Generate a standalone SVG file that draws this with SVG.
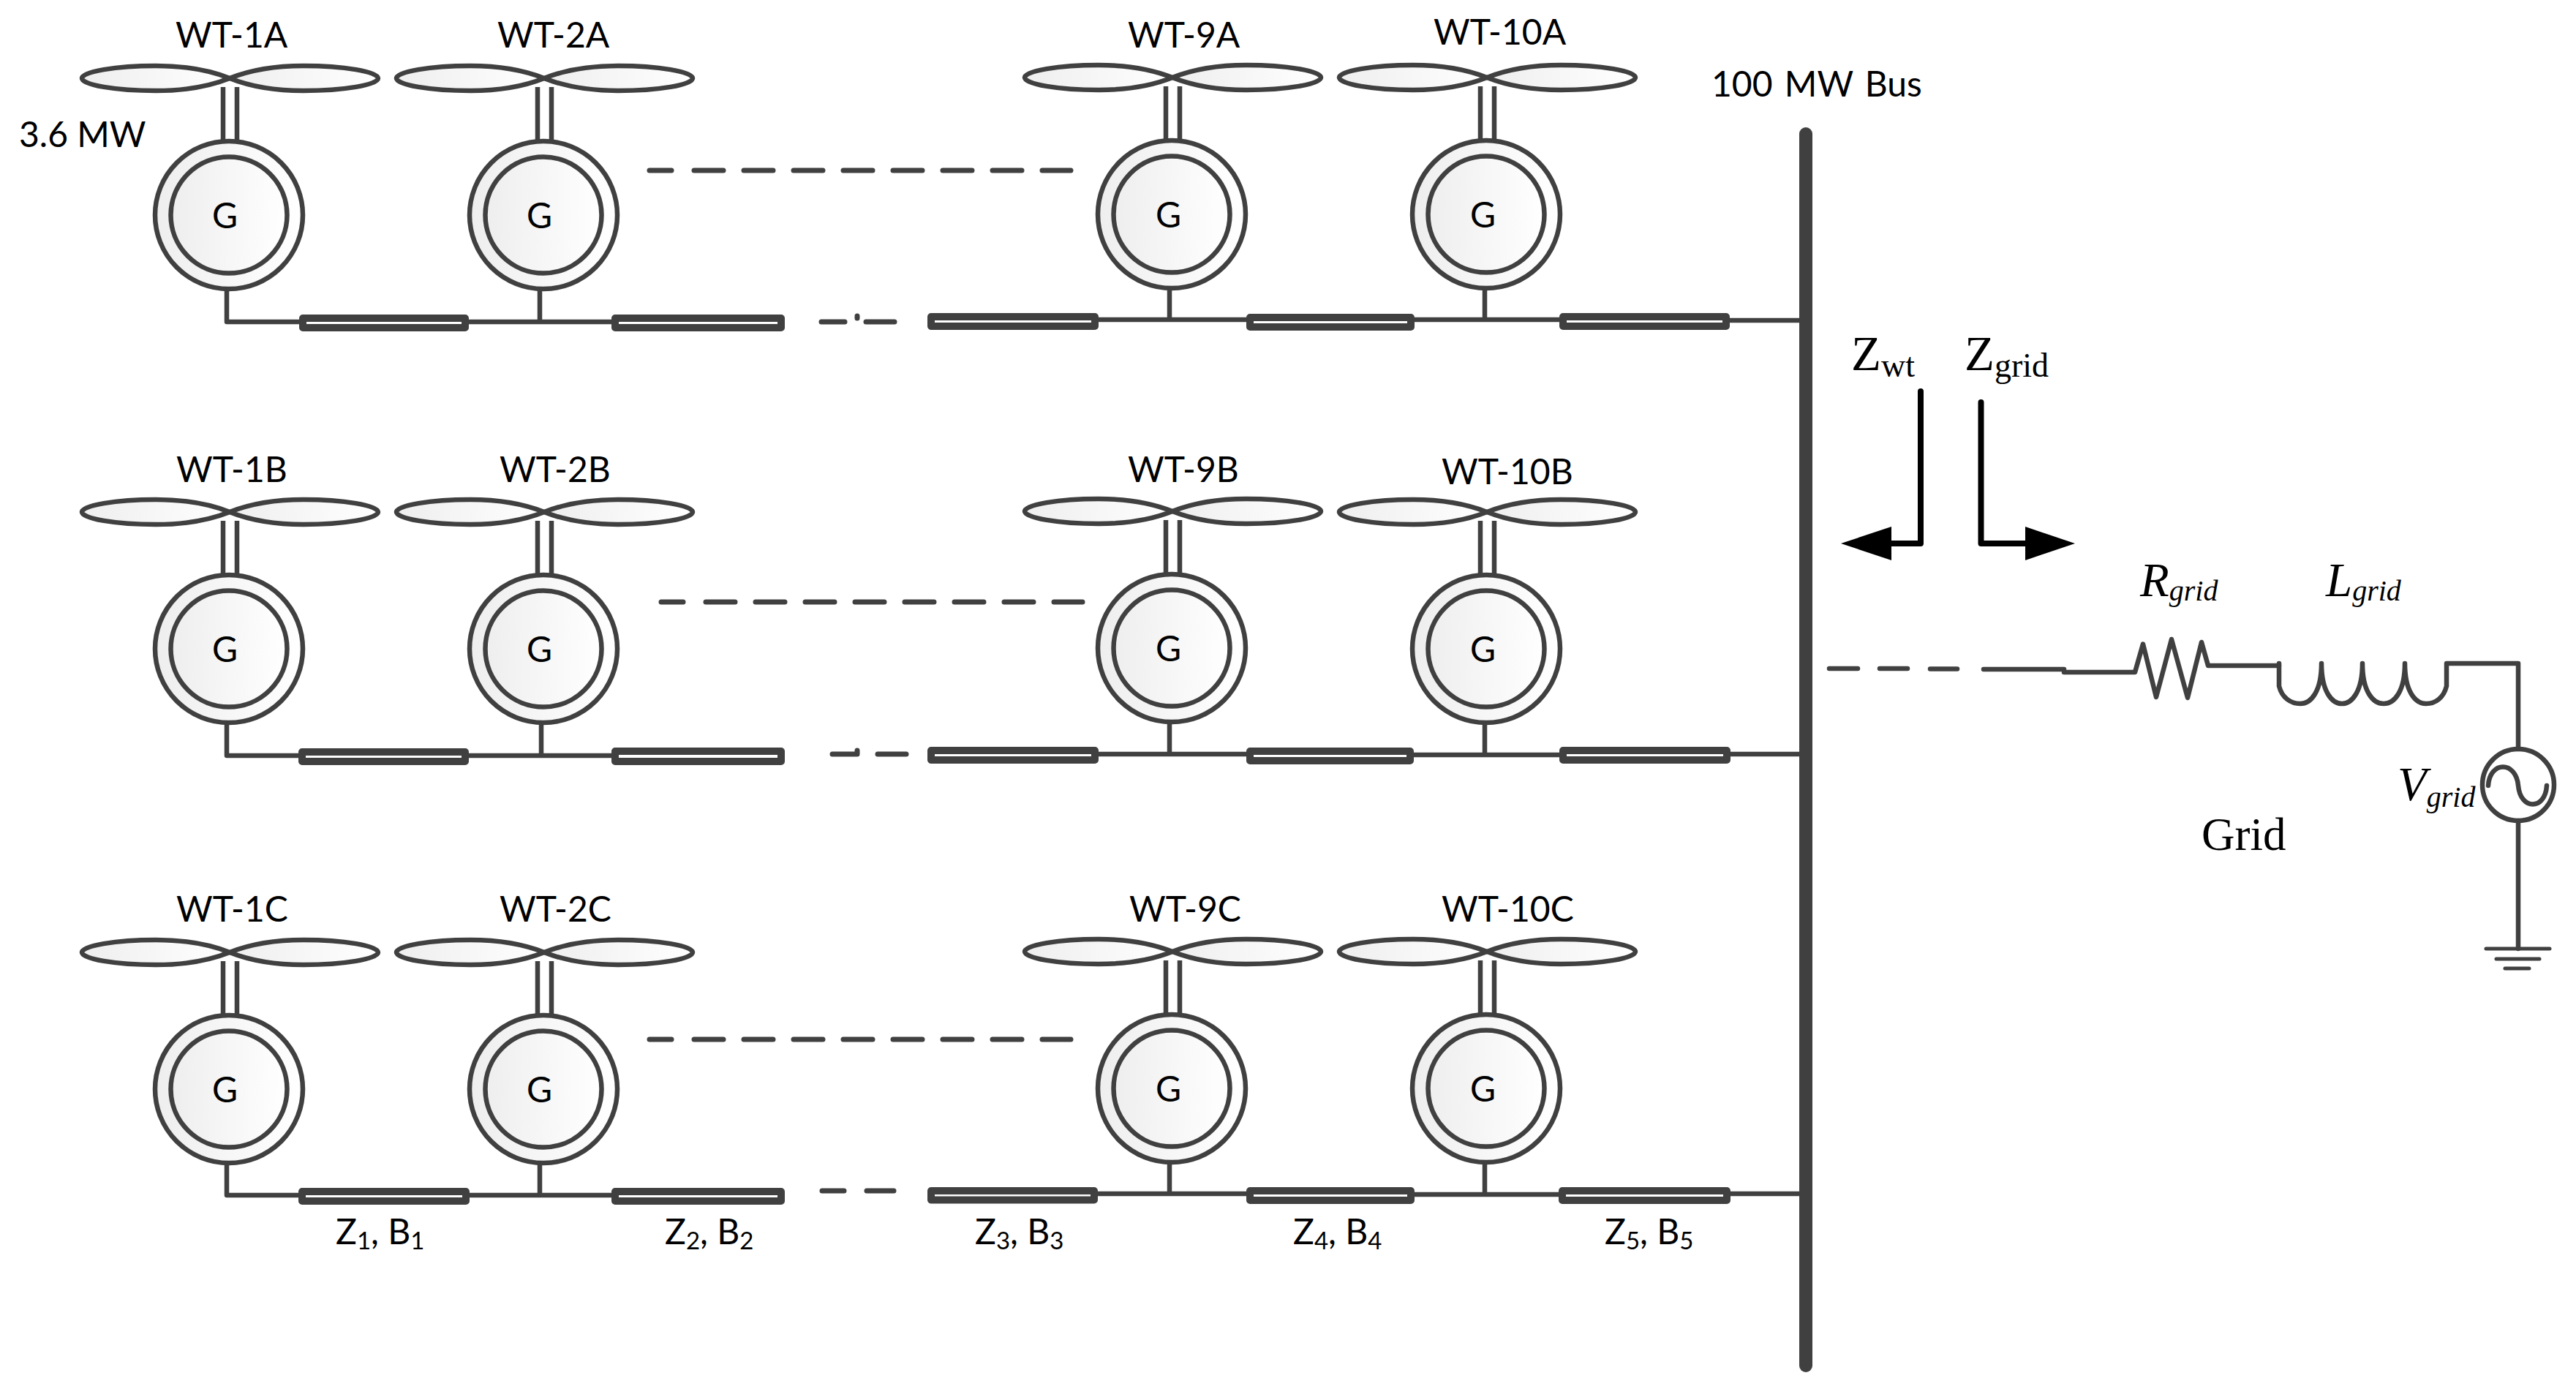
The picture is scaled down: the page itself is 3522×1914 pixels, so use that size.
<svg xmlns="http://www.w3.org/2000/svg" width="3522" height="1914" viewBox="0 0 3522 1914">
<style>
.w{fill:none;stroke:#404040;stroke-width:6.5;stroke-linecap:round;stroke-linejoin:round}
.k{fill:none;stroke:#000;stroke-width:8;stroke-linejoin:round;stroke-linecap:round}
.d{fill:none;stroke:#404040;stroke-width:7;stroke-linecap:round;stroke-dasharray:40 28}
.s{fill:none;stroke:#404040;stroke-width:7;stroke-linecap:round;stroke-linejoin:round}
.c{fill:#fff;stroke:#404040;stroke-width:10;stroke-linejoin:round}
.f{fill:url(#sh);stroke:#404040;stroke-width:6.5;stroke-linejoin:round}
text{fill:#000}
.l{font-family:Lato,"Open Sans",sans-serif;font-size:48px}
.z{font-family:Lato,"Open Sans",sans-serif;font-size:48px}
.u{font-size:33px}
.t{font-family:"Liberation Serif",serif;font-size:67px}
.i{font-family:"Liberation Serif",serif;font-size:65px;font-style:italic}
.b{font-size:46px}
.j{font-size:40px}
</style>
<defs>
<linearGradient id="sh"><stop offset="0" stop-color="#eeeeee"/><stop offset="1" stop-color="#ffffff"/></linearGradient>
<g id="turbine">
<path class="w" d="M-8 -175V-103M11 -175V-103" style="stroke-linecap:butt"/>
<path class="f" d="M1 -187C-24 -197 -60 -204 -100 -204C-155 -204 -201 -196 -201 -187C-201 -178 -155 -170 -100 -170C-60 -170 -24 -177 1 -187Z"/>
<path class="f" d="M1 -187C26 -197 62 -204 102 -204C157 -204 204 -196 204 -187C204 -178 157 -170 102 -170C62 -170 26 -177 1 -187Z"/>
<circle class="f" r="101"/>
<circle class="f" r="79.5"/>
</g>
</defs>
<g id="connectors">
<path class="w" d="M310 398V440H409M641 440H836M738 398V440M1502 437H1704M1599 397V437M1934 437H2132M2030 397V437M2365 438H2460"/>
<path class="w" d="M310 990V1033H408M641 1033H836M740 990V1033M1502 1031H1705M1599 990V1031M1932 1032H2132M2030 990V1032M2366 1031H2460"/>
<path class="w" d="M310 1592V1634H408M642 1634H836M738 1592V1634M1501 1632H1705M1599 1592V1632M1933 1633H2132M2030 1592V1633M2366 1632H2460"/>
<rect class="c" x="414" y="435" width="222" height="13"/>
<rect class="c" x="841" y="435" width="227" height="13"/>
<rect class="c" x="1273" y="433" width="224" height="13"/>
<rect class="c" x="1709" y="434" width="220" height="13"/>
<rect class="c" x="2137" y="433" width="223" height="13"/>
<rect class="c" x="413" y="1028" width="223" height="13"/>
<rect class="c" x="841" y="1027" width="227" height="14"/>
<rect class="c" x="1273" y="1026" width="224" height="13"/>
<rect class="c" x="1709" y="1027" width="219" height="13"/>
<rect class="c" x="2137" y="1026" width="224" height="13"/>
<rect class="c" x="413" y="1629" width="224" height="13"/>
<rect class="c" x="841" y="1629" width="227" height="13"/>
<rect class="c" x="1273" y="1628" width="223" height="12.5"/>
<rect class="c" x="1709" y="1628" width="220" height="13"/>
<rect class="c" x="2136" y="1628" width="225" height="13"/>
<path class="s" d="M888 233H918"/><path class="d" d="M949 233H1464"/>
<path class="s" d="M904 823H934"/><path class="d" d="M965 823H1480"/>
<path class="s" d="M888 1421H918"/><path class="d" d="M949 1421H1464"/>
<path class="s" d="M1123 440H1155M1172 432V435M1184 440H1223"/>
<path class="s" d="M1138 1031H1172V1026M1200 1031H1239"/>
<path class="s" d="M1124 1628H1154M1185 1628H1222"/>
<path class="w" d="M2501 914H2540M2570 914H2608M2639 914.5H2676M2712 915H2822"/>
<path class="w" d="M2822 919H2919L2930 880.5L2948 953L2969 874L2991 954L3010 878L3019 910H3116"/>
<path class="w" d="M3116 907V938C3120 954 3132 962 3145 962C3160 962 3174 945 3174 907C3174 945 3188 962 3202 962C3216 962 3230 945 3230 907C3230 945 3244 962 3259 962C3274 962 3288 945 3288 907C3288 945 3302 962 3317 962C3330 962 3341 954 3345 938V907H3443V1024"/>
<path class="w" d="M3443 1122V1297"/>
</g>
<g id="bus"><path d="M2469 183V1867" fill="none" stroke="#404040" stroke-width="18" stroke-linecap="round"/><text class="l" x="2340" y="132" style="word-spacing:4px">100 MW Bus</text></g>
<g id="wt-1a"><use href="#turbine" x="313" y="294"/><text class="l" x="240" y="65">WT-1A</text><text class="l" x="290" y="312">G</text></g>
<g id="wt-2a"><use href="#turbine" x="743" y="294"/><text class="l" x="680" y="65">WT-2A</text><text class="l" x="720" y="312">G</text></g>
<g id="wt-9a"><use href="#turbine" x="1602" y="293"/><text class="l" x="1542" y="65">WT-9A</text><text class="l" x="1580" y="311">G</text></g>
<g id="wt-10a"><use href="#turbine" x="2032" y="293"/><text class="l" x="1960" y="61">WT-10A</text><text class="l" x="2010" y="311">G</text></g>
<g id="wt-1b"><use href="#turbine" x="313" y="887"/><text class="l" x="241" y="659">WT-1B</text><text class="l" x="290" y="905">G</text></g>
<g id="wt-2b"><use href="#turbine" x="743" y="887"/><text class="l" x="683" y="659">WT-2B</text><text class="l" x="720" y="905">G</text></g>
<g id="wt-9b"><use href="#turbine" x="1602" y="886"/><text class="l" x="1542" y="659">WT-9B</text><text class="l" x="1580" y="904">G</text></g>
<g id="wt-10b"><use href="#turbine" x="2032" y="887"/><text class="l" x="1971" y="662">WT-10B</text><text class="l" x="2010" y="905">G</text></g>
<g id="wt-1c"><use href="#turbine" x="313" y="1489"/><text class="l" x="241" y="1260">WT-1C</text><text class="l" x="290" y="1507">G</text></g>
<g id="wt-2c"><use href="#turbine" x="743" y="1489"/><text class="l" x="683" y="1260">WT-2C</text><text class="l" x="720" y="1507">G</text></g>
<g id="wt-9c"><use href="#turbine" x="1602" y="1488"/><text class="l" x="1544" y="1260">WT-9C</text><text class="l" x="1580" y="1506">G</text></g>
<g id="wt-10c"><use href="#turbine" x="2032" y="1488"/><text class="l" x="1971" y="1260">WT-10C</text><text class="l" x="2010" y="1506">G</text></g>
<g id="rating"><text class="l" x="26" y="201">3.6 MW</text></g>
<g id="line-labels">
<text class="z" x="459" y="1701">Z<tspan class="u" dy="7">1</tspan><tspan dy="-7">, B</tspan><tspan class="u" dy="7">1</tspan></text>
<text class="z" x="909" y="1701">Z<tspan class="u" dy="7">2</tspan><tspan dy="-7">, B</tspan><tspan class="u" dy="7">2</tspan></text>
<text class="z" x="1333" y="1701">Z<tspan class="u" dy="7">3</tspan><tspan dy="-7">, B</tspan><tspan class="u" dy="7">3</tspan></text>
<text class="z" x="1768" y="1701">Z<tspan class="u" dy="7">4</tspan><tspan dy="-7">, B</tspan><tspan class="u" dy="7">4</tspan></text>
<text class="z" x="2194" y="1701">Z<tspan class="u" dy="7">5</tspan><tspan dy="-7">, B</tspan><tspan class="u" dy="7">5</tspan></text>
</g>
<g id="z-wt"><path class="k" d="M2626 535V743H2580"/><polygon points="2517,743 2586,720 2586,766"/><text class="t" x="2531" y="506">Z<tspan class="b" dy="9">wt</tspan></text></g>
<g id="z-grid"><path class="k" d="M2708.5 550V743H2775"/><polygon points="2837,743 2769,720 2769,766"/><text class="t" x="2686" y="506">Z<tspan class="b" dy="9">grid</tspan></text></g>
<g id="r-grid"><text class="i" x="2926" y="815">R<tspan class="j" dy="6">grid</tspan></text></g>
<g id="l-grid"><text class="i" x="3180" y="815">L<tspan class="j" dy="6">grid</tspan></text></g>
<g id="v-grid"><circle cx="3443" cy="1073" r="49" fill="none" stroke="#404040" stroke-width="6.5"/><path class="w" d="M3402 1074C3404 1040 3440 1040 3443 1074C3446 1108 3480 1108 3482 1074"/><text class="i" x="3278" y="1094">V<tspan class="j" dy="9">grid</tspan></text></g>
<g id="ground"><path class="w" style="stroke-width:5" d="M3399 1297H3486M3413 1311H3472M3425 1324H3458"/></g>
<g id="grid-label"><text class="t" x="3010" y="1162" style="font-size:63px">Grid</text></g>
</svg>
